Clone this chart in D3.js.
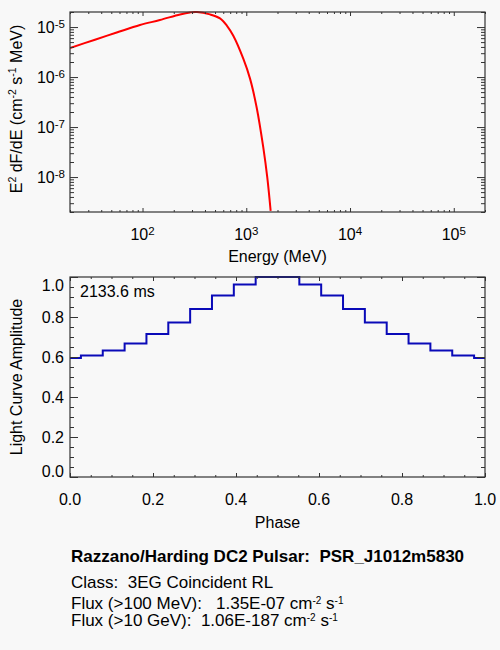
<!DOCTYPE html>
<html>
<head>
<meta charset="utf-8">
<script src="https://cdn.jsdelivr.net/npm/d3@7"></script>
<style>
  body { margin: 0; background: #f8f8f8; }
  svg { display: block; }
  text { font-family: "Liberation Sans", Arial, Helvetica, sans-serif; fill: #000; white-space: pre; }
</style>
</head>
<body>
<svg id="chart"></svg>
<script>
// spectrum (MeV, E^2 dF/dE)
const energy = [20, 34.8, 56.4, 94.5, 147, 230, 287, 335, 447, 558, 652, 750, 936, 1087, 1261, 1460, 1595, 1718];
const e2dfde = [3.81e-6, 5.59e-6, 7.78e-6, 1.10e-5, 1.38e-5, 1.79e-5, 1.96e-5, 2.0e-5, 1.79e-5, 1.49e-5,
                1.06e-5, 6.7e-6, 2.33e-6, 9.3e-7, 2.44e-7, 3.86e-8, 9.7e-9, 2.1e-9];

// light curve (20 phase points, histogram style)
const phase = [0, 0.0526, 0.1053, 0.1579, 0.2105, 0.2632, 0.3158, 0.3684, 0.4211, 0.4737,
               0.5263, 0.5789, 0.6316, 0.6842, 0.7368, 0.7895, 0.8421, 0.8947, 0.9474, 1.0];
const amplitude = [0.595, 0.607, 0.633, 0.667, 0.715, 0.773, 0.840, 0.908, 0.962, 1.0,
                   1.0, 0.962, 0.908, 0.840, 0.773, 0.715, 0.667, 0.633, 0.607, 0.595];

const energyTicks = [1e2, 1e3, 1e4, 1e5];
const fluxTicks = [1e-8, 1e-7, 1e-6, 1e-5];
const phaseTicks = [0, 0.2, 0.4, 0.6, 0.8, 1.0];
const ampTicks = [0, 0.2, 0.4, 0.6, 0.8, 1.0];
const periodLabel = "2133.6 ms";

// text lines: [text, superscript?] pieces
const titleLine = "Razzano/Harding DC2 Pulsar:  PSR_J1012m5830";
const classLine = "Class:  3EG Coincident RL";
const fluxLines = [
  [["Flux (>100 MeV):   1.35E-07 cm", 0], ["-2", 1], [" s", 0], ["-1", 1]],
  [["Flux (>10 GeV):  1.06E-187 cm", 0], ["-2", 1], [" s", 0], ["-1", 1]]
];
const specYLabel = [["E", 0], ["2", 1], [" dF/dE (cm", 0], ["-2", 1], [" s", 0], ["-1", 1], [" MeV)", 0]];

const W = 500, H = 650;
const svg = d3.select("#chart").attr("width", W).attr("height", H);
svg.append("rect").attr("width", W).attr("height", H).attr("fill", "#f8f8f8");

const axisColor = "#333";

// pieces of text with superscripts; supSize / raise set the exponent look
function richText(sel, parts, supSize, raise) {
  let up = false;
  parts.forEach(([t, sup]) => {
    let ts = sel.append("tspan").text(t);
    if (sup) {
      ts.attr("font-size", supSize);
      if (!up) { ts.attr("dy", -raise); up = true; }
    } else if (up) { ts.attr("dy", raise); up = false; }
  });
  return sel;
}

function logMinors(domain) {
  let out = [];
  let lo = Math.floor(Math.log10(domain[0])), hi = Math.ceil(Math.log10(domain[1]));
  for (let p = lo; p <= hi; p++) {
    for (let m = 2; m <= 9; m++) {
      let v = m * Math.pow(10, p);
      if (v >= domain[0] && v <= domain[1]) out.push(v);
    }
  }
  return out;
}

function drawTicks(g, x, y, box, xMajor, xMinor, yMajor, yMinor) {
  const xt = 4, yt = 8;
  g.append("g").attr("transform", `translate(0,${box.y1})`)
    .call(d3.axisBottom(x).tickValues(xMajor).tickSize(-xt).tickFormat(""));
  g.append("g").attr("transform", `translate(0,${box.y1})`)
    .call(d3.axisBottom(x).tickValues(xMinor).tickSize(-xt / 2).tickFormat(""));
  g.append("g").attr("transform", `translate(0,${box.y0})`)
    .call(d3.axisTop(x).tickValues(xMajor).tickSize(-xt).tickFormat(""));
  g.append("g").attr("transform", `translate(0,${box.y0})`)
    .call(d3.axisTop(x).tickValues(xMinor).tickSize(-xt / 2).tickFormat(""));
  g.append("g").attr("transform", `translate(${box.x0},0)`)
    .call(d3.axisLeft(y).tickValues(yMajor).tickSize(-yt).tickFormat(""));
  g.append("g").attr("transform", `translate(${box.x0},0)`)
    .call(d3.axisLeft(y).tickValues(yMinor).tickSize(-yt / 2).tickFormat(""));
  g.append("g").attr("transform", `translate(${box.x1},0)`)
    .call(d3.axisRight(y).tickValues(yMajor).tickSize(-yt).tickFormat(""));
  g.append("g").attr("transform", `translate(${box.x1},0)`)
    .call(d3.axisRight(y).tickValues(yMinor).tickSize(-yt / 2).tickFormat(""));
  g.selectAll(".domain").remove();
  g.selectAll(".tick line").attr("stroke", axisColor);
  g.append("rect")
    .attr("x", box.x0).attr("y", box.y0)
    .attr("width", box.x1 - box.x0).attr("height", box.y1 - box.y0)
    .attr("fill", "none").attr("stroke", axisColor).attr("stroke-width", 1.2);
}

// ---------- spectrum ----------
const b1 = { x0: 70, x1: 485, y0: 12, y1: 212 };
const xE = d3.scaleLog().domain([20, 2e5]).range([b1.x0, b1.x1]);
const yF = d3.scaleLog().domain([2e-9, 2e-5]).range([b1.y1, b1.y0]);

svg.append("clipPath").attr("id", "clip1").append("rect")
  .attr("x", b1.x0).attr("y", b1.y0 - 1).attr("width", b1.x1 - b1.x0).attr("height", b1.y1 - b1.y0 + 1);

const specLine = d3.line().x((d, i) => xE(energy[i])).y(d => yF(d)).curve(d3.curveCatmullRom.alpha(0.5));
svg.append("path").datum(e2dfde).attr("d", specLine)
  .attr("fill", "none").attr("stroke", "#ff0000").attr("stroke-width", 2)
  .attr("clip-path", "url(#clip1)");

const g1 = svg.append("g");
drawTicks(g1, xE, yF, b1, energyTicks, logMinors(xE.domain()), fluxTicks, logMinors(yF.domain()));

energyTicks.forEach(v => {
  let t = svg.append("text").attr("x", xE(v)).attr("y", 240).attr("text-anchor", "middle").attr("font-size", 16);
  richText(t, [["10", 0], [String(Math.round(Math.log10(v))), 1]], 11.5, 5);
});
fluxTicks.forEach(v => {
  let t = svg.append("text").attr("x", 65).attr("y", yF(v) + 6).attr("text-anchor", "end").attr("font-size", 16);
  richText(t, [["10", 0], [String(Math.round(Math.log10(v))), 1]], 11.5, 5);
});
svg.append("text").attr("x", (b1.x0 + b1.x1) / 2).attr("y", 262)
  .attr("text-anchor", "middle").attr("font-size", 16).text("Energy (MeV)");
richText(svg.append("text")
  .attr("transform", `translate(22,${(b1.y0 + b1.y1) / 2 - 3}) rotate(-90)`)
  .attr("text-anchor", "middle").attr("font-size", 16), specYLabel, 10.5, 6);

// ---------- light curve ----------
const b2 = { x0: 70, x1: 485, y0: 277, y1: 477 };
const xP = d3.scaleLinear().domain([0, 1]).range([b2.x0, b2.x1]);
const yA = d3.scaleLinear().domain([0, 1]).range([b2.y1, b2.y0]);

const lcLine = d3.line().x((d, i) => xP(phase[i])).y(d => yA(d)).curve(d3.curveStep);
svg.append("path").datum(amplitude).attr("d", lcLine)
  .attr("fill", "none").attr("stroke", "#0a0ab8").attr("stroke-width", 2);

const minor5 = d3.range(0.05, 1, 0.05).filter(v => Math.abs(v * 5 - Math.round(v * 5)) > 1e-6);
const g2 = svg.append("g");
drawTicks(g2, xP, yA, b2, phaseTicks, minor5, ampTicks, minor5);

phaseTicks.forEach(v => {
  svg.append("text").attr("x", xP(v)).attr("y", 505).attr("text-anchor", "middle")
    .attr("font-size", 16).text(v.toFixed(1));
});
ampTicks.forEach(v => {
  let cy = Math.max(b2.y0 + 8, Math.min(b2.y1 - 5.5, yA(v)));
  svg.append("text").attr("x", 64).attr("y", cy + 5.7).attr("text-anchor", "end")
    .attr("font-size", 16).text(v.toFixed(1));
});
svg.append("text").attr("x", (b2.x0 + b2.x1) / 2).attr("y", 528)
  .attr("text-anchor", "middle").attr("font-size", 16).text("Phase");
svg.append("text")
  .attr("transform", `translate(22,${(b2.y0 + b2.y1) / 2}) rotate(-90)`)
  .attr("text-anchor", "middle").attr("font-size", 16).text("Light Curve Amplitude");
svg.append("text").attr("x", 80).attr("y", 297).attr("font-size", 16).text(periodLabel);

// ---------- info block ----------
svg.append("text").attr("x", 71).attr("y", 562).attr("font-size", 17)
  .attr("font-weight", "bold").text(titleLine);
svg.append("text").attr("x", 71).attr("y", 588).attr("font-size", 17).text(classLine);
fluxLines.forEach((parts, i) => {
  richText(svg.append("text").attr("x", 71).attr("y", 608.5 + i * 17.5).attr("font-size", 17), parts, 10, 5);
});
</script>
</body>
</html>
